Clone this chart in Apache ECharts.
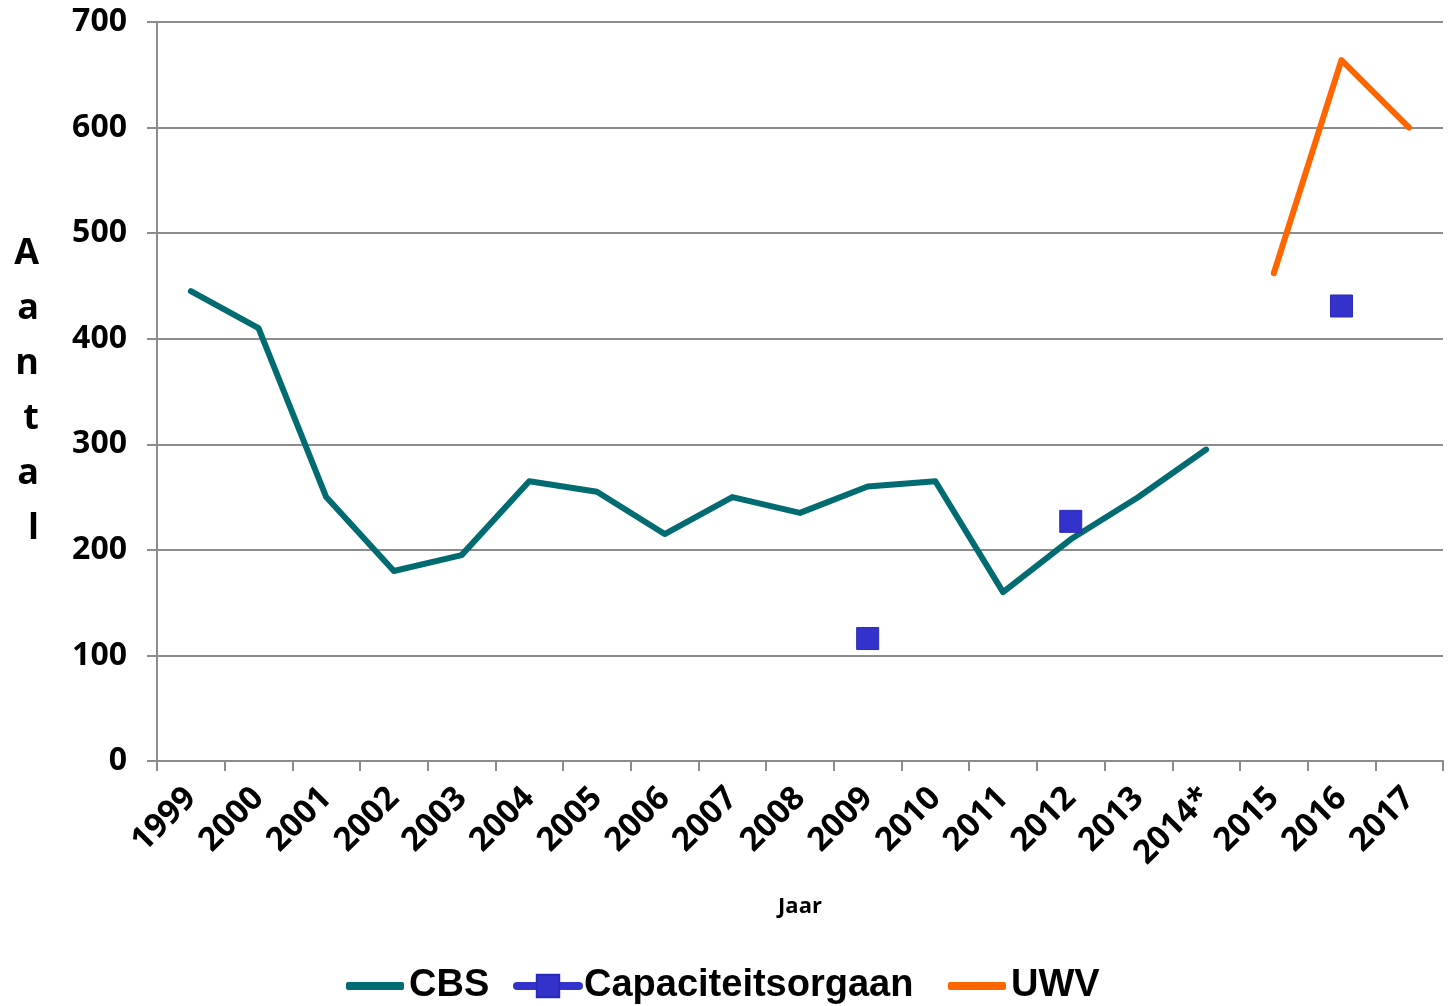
<!DOCTYPE html>
<html>
<head>
<meta charset="utf-8">
<script src="https://cdn.jsdelivr.net/npm/echarts@6/dist/echarts.min.js"></script>
<style>
  html, body { margin: 0; padding: 0; background: #fff; }
  #chart { width: 1451px; height: 1006px; }
</style>
</head>
<body>
<div id="chart"></div>
<script>
const jaren = ['1999', '2000', '2001', '2002', '2003', '2004', '2005', '2006', '2007', '2008',
  '2009', '2010', '2011', '2012', '2013', '2014*', '2015', '2016', '2017']
const cbs = [445, 410, 250, 180, 195, 265, 255, 215, 250, 235, 260, 265, 160, 210, 250, 295, null, null, null]
const capaciteitsorgaan = [null, null, null, null, null, null, null, null, null, null,
  116, null, null, 227, null, null, null, 431, null]
const uwv = [null, null, null, null, null, null, null, null, null, null,
  null, null, null, null, null, null, 462, 664, 600]
const yTicks = [0, 100, 200, 300, 400, 500, 600, 700]

const grijs = '#8c8c8c'
const tickFont = 'Open Sans'
const legendText = { fontFamily: 'Liberation Sans', fontWeight: 'bold', fontSize: 38, color: '#000' }

const chart = echarts.init(document.getElementById('chart'))

chart.setOption({
  animation: false,
  grid: { left: 157, right: 8, top: 22, bottom: 245, containLabel: false },
  legend: [
    {
      left: 341, top: 962,
      itemWidth: 58, itemHeight: 8, itemGap: 0,
      textStyle: legendText,
      data: [{ name: 'CBS', icon: 'roundRect' }]
    },
    {
      left: 508, top: 962,
      itemWidth: 62, itemHeight: 28, itemGap: 0,
      textStyle: legendText,
      lineStyle: { width: 8, cap: 'round' },
      data: ['Capaciteitsorgaan']
    },
    {
      left: 943, top: 962,
      itemWidth: 58, itemHeight: 8, itemGap: 0,
      textStyle: legendText,
      data: [{ name: 'UWV', icon: 'roundRect' }]
    }
  ],
  xAxis: {
    type: 'category',
    data: jaren,
    boundaryGap: true,
    name: 'Jaar',
    nameLocation: 'middle',
    nameGap: 135,
    nameTextStyle: { fontFamily: tickFont, fontWeight: 'bold', fontSize: 22, color: '#000' },
    axisLine: { lineStyle: { color: grijs, width: 2 } },
    axisTick: { show: true, length: 10, lineStyle: { color: grijs, width: 2 } },
    axisLabel: {
      rotate: 45,
      margin: 32,
      interval: 0,
      fontFamily: tickFont,
      fontWeight: 'bold',
      fontSize: 33,
      color: '#000'
    },
    splitLine: { show: false }
  },
  yAxis: {
    type: 'value',
    min: yTicks[0],
    max: yTicks[yTicks.length - 1],
    interval: 100,
    name: 'A\na\nn\nt\na\nl',
    nameLocation: 'middle',
    nameRotate: 0,
    nameGap: 118,
    nameTextStyle: { fontFamily: tickFont, fontWeight: 'bold', fontSize: 36, lineHeight: 55, color: '#000' },
    axisLine: { show: true, lineStyle: { color: grijs, width: 2 } },
    axisTick: { show: true, length: 10, lineStyle: { color: grijs, width: 2 } },
    axisLabel: {
      margin: 30,
      fontFamily: tickFont,
      fontWeight: 'bold',
      fontSize: 32,
      color: '#000'
    },
    splitLine: { show: true, lineStyle: { color: grijs, width: 2 } }
  },
  series: [
    {
      name: 'CBS',
      type: 'line',
      data: cbs,
      showSymbol: false,
      symbol: 'none',
      connectNulls: false,
      itemStyle: { color: '#006b70' },
      lineStyle: { color: '#006b70', width: 6, cap: 'round', join: 'round' }
    },
    {
      name: 'Capaciteitsorgaan',
      type: 'line',
      data: capaciteitsorgaan,
      symbol: 'rect',
      symbolSize: 22,
      showSymbol: true,
      connectNulls: false,
      itemStyle: { color: '#3333cc', borderColor: '#2a2ab8', borderWidth: 1 },
      lineStyle: { color: '#3333cc', width: 8, cap: 'round' }
    },
    {
      name: 'UWV',
      type: 'line',
      data: uwv,
      showSymbol: false,
      symbol: 'none',
      connectNulls: false,
      itemStyle: { color: '#ff6600' },
      lineStyle: { color: '#ff6600', width: 6, cap: 'round', join: 'round' }
    }
  ]
})
</script>
</body>
</html>
